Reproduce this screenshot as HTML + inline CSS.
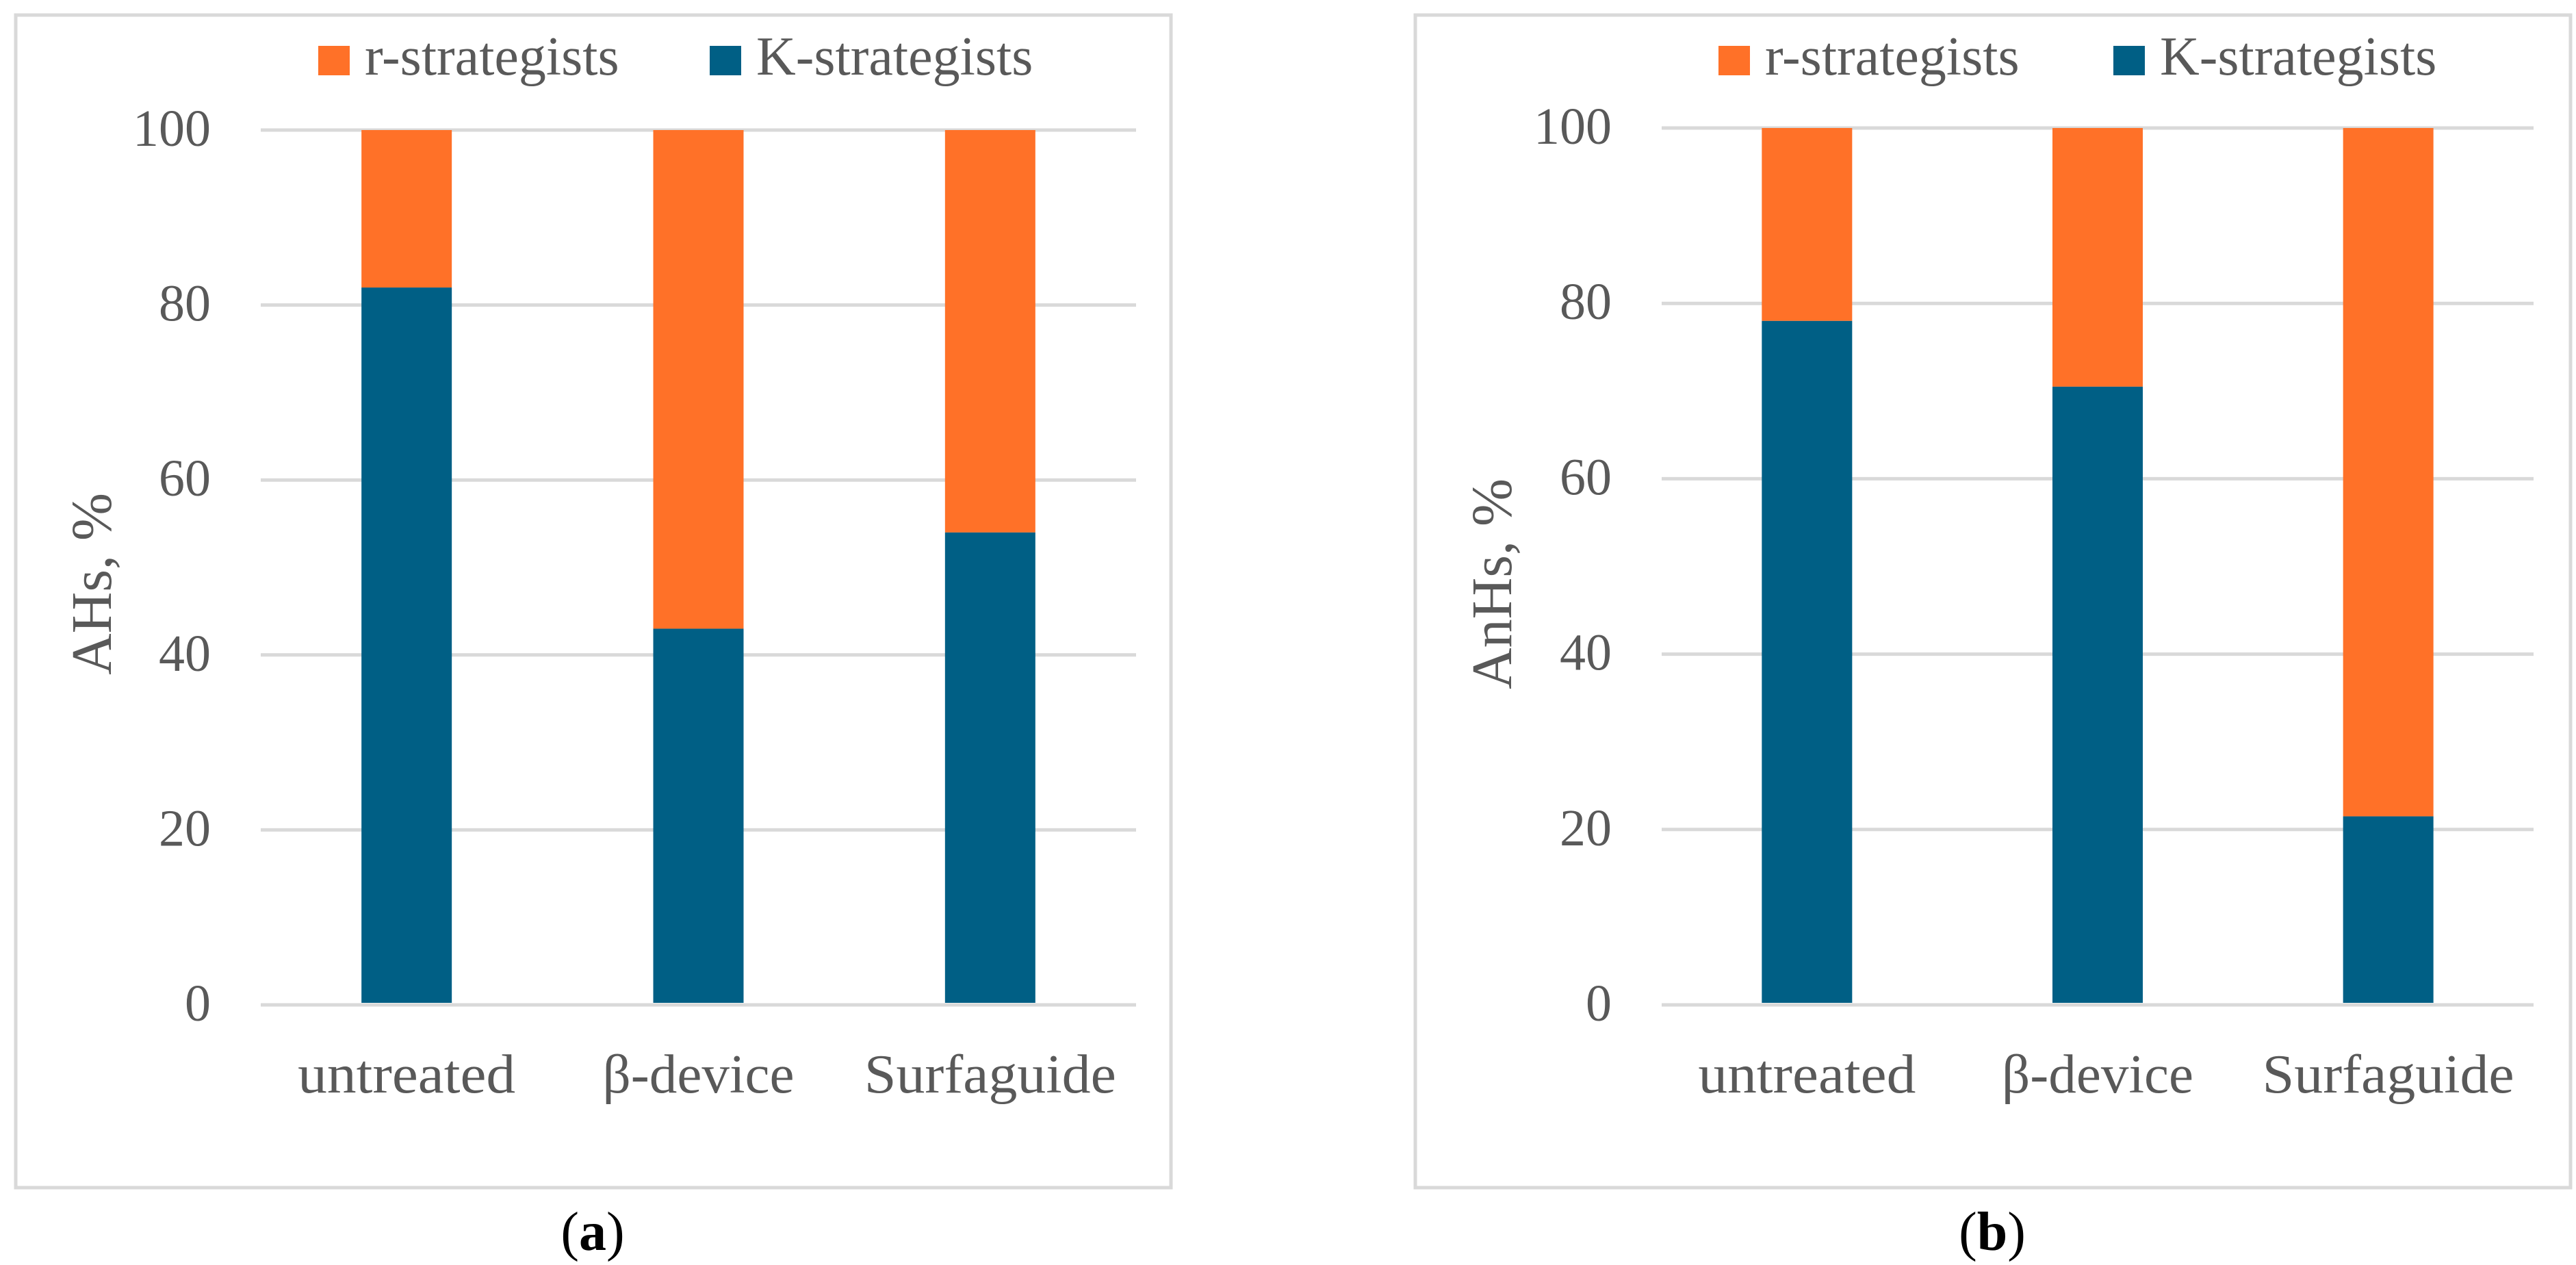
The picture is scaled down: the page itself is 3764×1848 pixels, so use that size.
<!DOCTYPE html>
<html><head><meta charset="utf-8"><style>
html,body{margin:0;padding:0;background:#fff}
svg{display:block}
text{font-family:"Liberation Serif",serif;fill:#595959}
</style></head><body>
<svg id="fig" width="3764" height="1848" viewBox="0 0 3764 1848" xmlns="http://www.w3.org/2000/svg"></svg>
<script>
const categories = ["untreated", "β-device", "Surfaguide"];
const kA = [82, 43, 54];
const kB = [78, 70.5, 21.5];
const yTicks = [0, 20, 40, 60, 80, 100];
const seriesNames = ["r-strategists", "K-strategists"];

const NS = "http://www.w3.org/2000/svg";
const svg = document.getElementById("fig");
function mk(tag, attrs, parent) {
  const e = document.createElementNS(NS, tag);
  for (const k in attrs) e.setAttribute(k, attrs[k]);
  (parent || svg).appendChild(e);
  return e;
}
const ORANGE = "#FF7128", BLUE = "#005F85", GRID = "#D9D9D9";
const labelWidths = [318, 280, 368];

function panel(cfg, kVals, title, caption, id) {
  const g = mk("g", {});
  
  
  const box = mk("rect", {x: cfg.bx, y: 22, width: cfg.bw, height: 1713, fill: "#fff", stroke: GRID, "stroke-width": 5}, g);
  
  
  const y = v => cfg.y0 + (cfg.y100 - cfg.y0) * v / 100;
  const band = (cfg.x1 - cfg.x0) / categories.length;
  const bw = 132;
  yTicks.forEach(t => {
    const l = mk("line", {x1: cfg.x0, x2: cfg.x1, y1: y(t), y2: y(t), stroke: GRID, "stroke-width": 5}, g);
    
    
    const tx = mk("text", {x: cfg.x0 - 73, y: y(t) + 23, "font-size": 76, "text-anchor": "end"}, g);
    tx.textContent = t;
    
    
  });
  categories.forEach((c, i) => {
    const cx = cfg.x0 + band * (i + 0.5);
    const k = kVals[i];
    const rb = mk("rect", {x: cx - bw / 2, y: y(100), width: bw, height: y(k) - y(100), fill: ORANGE}, g);
    
    
    const kb = mk("rect", {x: cx - bw / 2, y: y(k), width: bw, height: y(0) - y(k) - 3, fill: BLUE}, g);
    
    
    const cl = mk("text", {x: cx, y: 1596, "font-size": 80, "text-anchor": "middle", textLength: labelWidths[i], lengthAdjust: "spacingAndGlyphs"}, g);
    cl.textContent = c;
    
    
  });
  const cols = [ORANGE, BLUE];
  seriesNames.forEach((s, i) => {
    const sq = mk("rect", {x: cfg.lx[i], y: 67, width: 46, height: 43, fill: cols[i]}, g);
    
    
    const lt = mk("text", {x: cfg.lx[i] + 68, y: 109, "font-size": 80}, g);
    lt.textContent = s;
    
    
  });
  const yt = mk("text", {x: 0, y: 0, "font-size": 84, "text-anchor": "middle", transform: `translate(${cfg.tx},853) rotate(-90)`}, g);
  yt.textContent = title;
  
  
  const cap = mk("text", {x: cfg.capx, y: 1826, "font-size": 80, "text-anchor": "middle"}, g);
  cap.style.fill = "#000";
  cap.innerHTML = '(<tspan font-weight="bold">' + caption + '</tspan>)';
  
  
}
panel({bx: 23, bw: 1688, x0: 381, x1: 1660, y0: 1468, y100: 190, lx: [465, 1037], tx: 162, capx: 866}, kA, "AHs, %", "a", "a");
panel({bx: 2068, bw: 1688, x0: 2428, x1: 3702, y0: 1468, y100: 187, lx: [2511, 3088], tx: 2208, capx: 2911}, kB, "AnHs, %", "b", "b");
</script>
</body></html>
